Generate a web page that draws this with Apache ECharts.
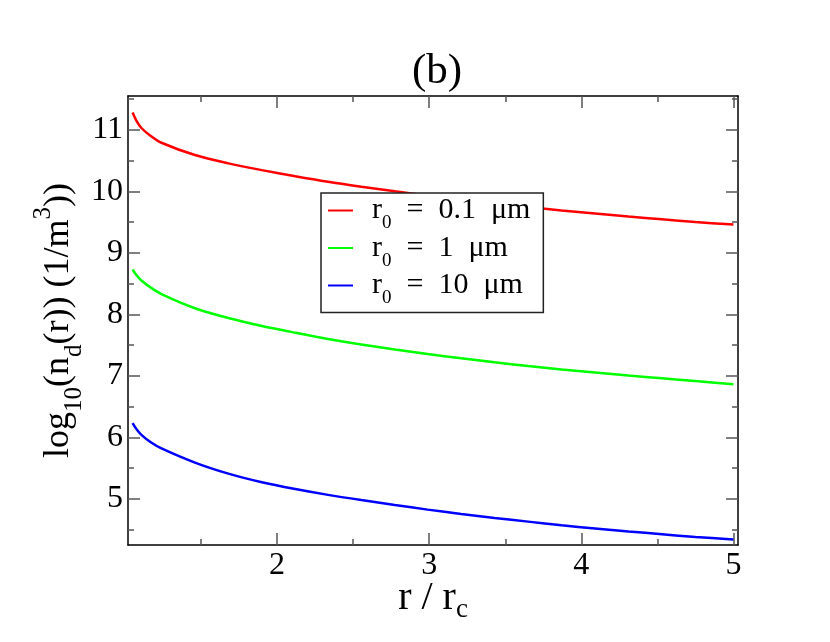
<!DOCTYPE html>
<html><head><meta charset="utf-8">
<script src="https://cdn.jsdelivr.net/npm/echarts@6/dist/echarts.min.js"></script>
<style>html,body{margin:0;padding:0;background:#fff}#c{width:830px;height:642px}</style>
</head><body><div id="c"></div>
<script>
const xValues = [1.05, 1.075, 1.108, 1.17, 1.24, 1.46, 1.68, 1.90, 2.12, 2.335, 2.554, 2.774, 2.99, 3.21, 3.43, 3.65, 3.87, 4.09, 4.31, 4.53, 4.75, 5.0];
const redValues = [11.28, 11.15, 11.03, 10.90, 10.79, 10.59, 10.455, 10.345, 10.245, 10.155, 10.075, 10.0, 9.93, 9.865, 9.80, 9.745, 9.69, 9.64, 9.59, 9.545, 9.50, 9.46];
const greenValues = [8.73, 8.64, 8.55, 8.435, 8.33, 8.10, 7.94, 7.81, 7.70, 7.60, 7.51, 7.43, 7.355, 7.285, 7.22, 7.16, 7.105, 7.055, 7.005, 6.96, 6.915, 6.865];
const blueValues = [6.23, 6.135, 6.04, 5.92, 5.82, 5.59, 5.41, 5.27, 5.16, 5.065, 4.98, 4.90, 4.825, 4.755, 4.69, 4.63, 4.57, 4.52, 4.47, 4.425, 4.38, 4.34];
const seriesNames = ['r0 = 0.1 μm', 'r0 = 1 μm', 'r0 = 10 μm'];
const seriesColors = ['#ff0000', '#00ff00', '#0000ff'];
const xMajorTicks = [2, 3, 4, 5];
const xMinorTicks = [1.5, 2.5, 3.5, 4.5];
const yMajorTicks = [5, 6, 7, 8, 9, 10, 11];
const yMinorTicks = [4.5, 5.5, 6.5, 7.5, 8.5, 9.5, 10.5, 11.5];
const xRange = [1.02, 5.03];
const yRange = [4.25, 11.55];

const FONT = 'Liberation Serif';
const chart = echarts.init(document.getElementById('c'));

function mkAxis(pos, range, ticks, len, showLine, showLabel, extra) {
  return Object.assign({
    type: 'value', position: pos, min: range[0], max: range[1],
    splitLine: {show: false},
    axisLine: {show: showLine, onZero: false, lineStyle: {color: '#000', width: 1.5}},
    axisTick: {show: true, inside: true, length: len, customValues: ticks, lineStyle: {color: '#555', width: 1.5}},
    axisLabel: {show: showLabel, customValues: ticks, fontFamily: FONT, fontSize: 32, color: '#000', margin: 5}
  }, extra || {});
}

const seriesData = [redValues, greenValues, blueValues];
const series = seriesData.map((vals, i) => ({
  name: seriesNames[i], type: 'line', xAxisIndex: 0, yAxisIndex: 0,
  data: xValues.map((x, j) => [x, vals[j]]),
  showSymbol: false, symbol: 'none', smooth: 0.3,
  lineStyle: {color: seriesColors[i], width: 2.5}, itemStyle: {color: seriesColors[i]}
}));

chart.setOption({
  animation: false,
  backgroundColor: '#fff',
  title: {text: '(b)', left: 432, textAlign: 'center', top: 45,
    textStyle: {fontFamily: FONT, fontSize: 43, fontWeight: 'normal', color: '#000'}},
  grid: {left: 128, right: 92, top: 96, bottom: 97, containLabel: false, outerBoundsMode: 'none'},
  legend: {
    left: 321, top: 193, orient: 'vertical', icon: 'rect', itemWidth: 25, itemHeight: 2,
    itemGap: 0, padding: [2.5, 13, 4.5, 7], backgroundColor: '#fff', borderColor: '#222', borderWidth: 1.5,
    data: seriesNames,
    formatter: n => '{g|}{m|r}{s|0}{m|' + n.slice(2).replace(/ /g, '\u2002') + '}',
    textStyle: {fontFamily: FONT, color: '#000',
      rich: {
        g: {width: 14, lineHeight: 45},
        m: {fontFamily: FONT, fontSize: 30, lineHeight: 45, verticalAlign: 'middle', color: '#000'},
        s: {fontFamily: FONT, fontSize: 19, lineHeight: 45, verticalAlign: 'bottom', color: '#000'}
      }}
  },
  xAxis: [
    mkAxis('bottom', xRange, xMajorTicks, 12, true, true, {
      name: '{m|r / r}{s|c}', nameLocation: 'middle', nameGap: 28, nameMoveOverlap: false,
      nameTextStyle: {fontFamily: FONT, color: '#000', rich: {
        m: {fontFamily: FONT, fontSize: 40, lineHeight: 50, verticalAlign: 'middle', color: '#000'},
        s: {fontFamily: FONT, fontSize: 27, lineHeight: 50, verticalAlign: 'bottom', color: '#000'}}}
    }),
    mkAxis('bottom', xRange, xMinorTicks, 6, false, false),
    mkAxis('top', xRange, xMajorTicks, 12, true, false),
    mkAxis('top', xRange, xMinorTicks, 6, false, false)
  ],
  yAxis: [
    mkAxis('left', yRange, yMajorTicks, 12, true, true, {
      name: '{m|log}{s|10}{m|(n}{s|d}{m|(r)) (1/m}{p|3}{m|))}', nameLocation: 'middle', nameGap: 41, nameRotate: 90, nameMoveOverlap: false,
      nameTextStyle: {fontFamily: FONT, color: '#000', rich: {
        m: {fontFamily: FONT, fontSize: 36, lineHeight: 56, verticalAlign: 'middle', color: '#000'},
        s: {fontFamily: FONT, fontSize: 25, lineHeight: 56, verticalAlign: 'bottom', color: '#000'},
        p: {fontFamily: FONT, fontSize: 25, lineHeight: 56, verticalAlign: 'top', color: '#000'}}}
    }),
    mkAxis('left', yRange, yMinorTicks, 6, false, false),
    mkAxis('right', yRange, yMajorTicks, 12, true, false),
    mkAxis('right', yRange, yMinorTicks, 6, false, false)
  ],
  series: series
});
</script></body></html>
